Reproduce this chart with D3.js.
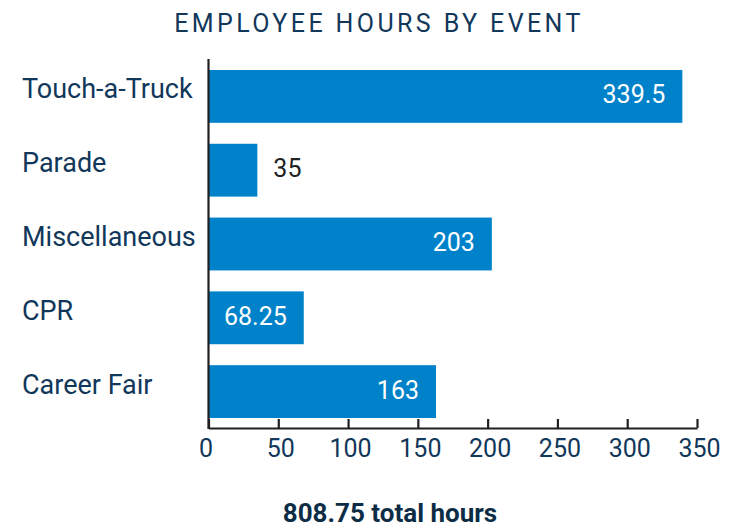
<!DOCTYPE html>
<html>
<head>
<meta charset="utf-8">
<script src="https://cdn.jsdelivr.net/npm/d3@7"></script>
<style>
  html, body { margin: 0; padding: 0; background: #ffffff; }
  svg { display: block; font-family: Roboto, "Noto Sans", sans-serif; }
</style>
</head>
<body>
<svg id="chart" width="729" height="532"></svg>
<script>
// Event categories (top to bottom) and hours per event
const events = ["Touch-a-Truck", "Parade", "Miscellaneous", "CPR", "Career Fair"];
const hours = [339.5, 35, 203, 68.25, 163];
const tickValues = [0, 50, 100, 150, 200, 250, 300, 350];
const titleText = "EMPLOYEE HOURS BY EVENT";
const totalText = "808.75 total hours";

const navy = "#11375a";
const barColor = "#0082ca";
const axisColor = "#231f20";

const svg = d3.select("#chart");

const x = d3.scaleLinear().domain([0, 350]).range([208.5, 697]);
const y = d3.scaleBand()
  .domain(events)
  .range([59.5, 428.5])
  .paddingInner(0.284)
  .paddingOuter(0.142);

const rows = events.map((e, i) => ({ event: e, value: hours[i] }));

// Title
svg.append("text")
  .attr("x", 379)
  .attr("y", 32)
  .attr("text-anchor", "middle")
  .attr("fill", navy)
  .attr("font-size", 25)
  .attr("letter-spacing", "3.4px")
  .text(titleText);

// Bars
svg.append("g").selectAll("rect")
  .data(rows)
  .join("rect")
  .attr("x", x(0))
  .attr("y", d => y(d.event))
  .attr("width", d => x(d.value) - x(0))
  .attr("height", y.bandwidth())
  .attr("fill", barColor);

// Category labels
svg.append("g").selectAll("text")
  .data(rows)
  .join("text")
  .attr("x", 22)
  .attr("y", d => y(d.event) + y.bandwidth() / 2 + 2)
  .attr("fill", navy)
  .attr("font-size", 27)
  .text(d => d.event);

// Value labels: inside the bar when it is wide enough, otherwise after it
const fmt = v => String(v);
svg.append("g").selectAll("text")
  .data(rows)
  .join("text")
  .each(function (d) {
    const w = x(d.value) - x(0);
    const inside = w > 70;
    d3.select(this)
      .attr("x", inside ? x(d.value) - 17 : x(d.value) + 16)
      .attr("text-anchor", inside ? "end" : "start")
      .attr("fill", inside ? "#ffffff" : "#222222");
  })
  .attr("y", d => y(d.event) + y.bandwidth() / 2 + 7)
  .attr("font-size", 25)
  .text(d => fmt(d.value));

// Bottom axis with ticks pointing up
const axis = svg.append("g")
  .attr("transform", "translate(0,428)")
  .call(d3.axisBottom(x).tickValues(tickValues).tickSizeInner(-9).tickSizeOuter(0).tickPadding(0));
axis.select(".domain").attr("stroke", axisColor).attr("stroke-width", 2.2);
axis.selectAll(".tick line").attr("stroke", axisColor).attr("stroke-width", 2.2);
axis.selectAll(".tick text").remove();
axis.selectAll(".tick").append("text")
  .attr("x", d => d === 0 ? -3 : 2)
  .attr("y", 29)
  .attr("text-anchor", "middle")
  .attr("fill", navy)
  .attr("font-size", 25)
  .attr("font-family", "Roboto, sans-serif")
  .text(d => d);

// Vertical baseline at zero
svg.append("line")
  .attr("x1", x(0)).attr("x2", x(0))
  .attr("y1", 59).attr("y2", 429)
  .attr("stroke", axisColor)
  .attr("stroke-width", 2.2);

// Total
svg.append("text")
  .attr("x", 390)
  .attr("y", 522)
  .attr("text-anchor", "middle")
  .attr("fill", "#0d2c45")
  .attr("font-size", 26)
  .attr("font-weight", 700)
  .text(totalText);
</script>
</body>
</html>
